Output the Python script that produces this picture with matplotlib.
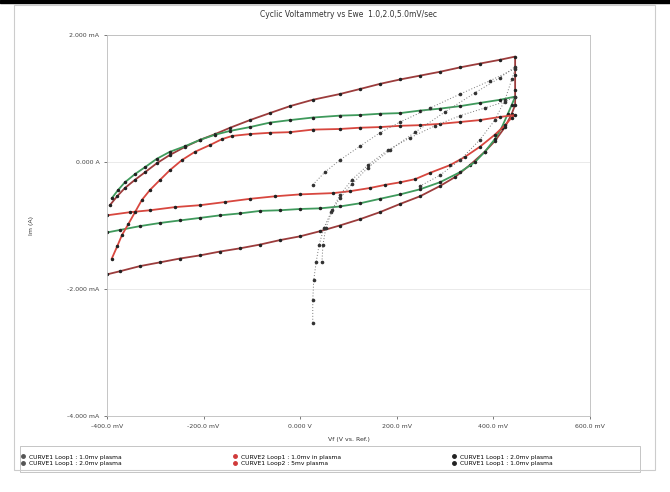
import matplotlib
matplotlib.use("Agg")
import matplotlib.pyplot as plt
from matplotlib.lines import Line2D
from matplotlib.patches import Rectangle

# potentials in mV, currents in mA
loop1_v = [-400, -373, -332, -290, -249, -207, -166, -125, -83, -42, 0, 41, 82, 124, 165, 207, 248,
           289, 320, 351, 382, 403, 424, 438, 445, 445, 445,
           445, 414, 372, 331, 289, 248, 207, 165, 124, 82, 26, -21, -63, -104, -145, -176,
           -207, -238, -270, -297, -321, -342, -363, -379, -394]
loop1_i = [-1.77, -1.72, -1.64, -1.58, -1.52, -1.47, -1.41, -1.36, -1.30, -1.23, -1.17, -1.09, -1.00,
           -0.90, -0.79, -0.66, -0.54, -0.38, -0.24, -0.05, 0.16, 0.33, 0.55, 0.76, 0.90, 1.14, 1.37,
           1.66, 1.61, 1.55, 1.49, 1.42, 1.36, 1.30, 1.23, 1.15, 1.07, 0.98, 0.88, 0.77, 0.66, 0.54, 0.44,
           0.35, 0.24, 0.11, -0.02, -0.16, -0.28, -0.41, -0.54, -0.68]

loop2_v = [-400, -373, -332, -290, -249, -207, -166, -125, -83, -42, 0, 41, 82, 124, 165, 207, 248,
           289, 331, 362, 382, 403, 417, 430, 438, 445,
           414, 372, 331, 289, 248, 207, 165, 124, 82, 26, -21, -63, -104, -145, -176,
           -207, -238, -270, -297, -321, -342, -363, -377, -390]
loop2_i = [-1.11, -1.07, -1.01, -0.96, -0.92, -0.88, -0.84, -0.81, -0.77, -0.76, -0.74, -0.73, -0.70,
           -0.65, -0.58, -0.51, -0.43, -0.32, -0.16, 0.00, 0.16, 0.36, 0.54, 0.76, 0.90, 1.03,
           0.98, 0.93, 0.88, 0.84, 0.81, 0.77, 0.76, 0.74, 0.73, 0.70, 0.66, 0.62, 0.55, 0.49, 0.43,
           0.35, 0.25, 0.16, 0.05, -0.08, -0.19, -0.32, -0.44, -0.57]

loop3_v = [-400, -352, -311, -259, -207, -155, -104, -52, 0, 68, 103, 144, 176, 207, 238, 269, 310,
           341, 372, 403, 424, 438, 445,
           414, 372, 331, 289, 248, 207, 165, 124, 82, 26, -21, -63, -104, -141, -162, -186,
           -218, -245, -270, -290, -311, -328, -342, -356, -369, -379, -390]
loop3_i = [-0.84, -0.79, -0.76, -0.71, -0.68, -0.63, -0.58, -0.54, -0.51, -0.49, -0.46, -0.41, -0.36,
           -0.32, -0.27, -0.17, -0.05, 0.08, 0.24, 0.43, 0.58, 0.70, 0.74,
           0.71, 0.66, 0.63, 0.60, 0.58, 0.57, 0.55, 0.54, 0.52, 0.51, 0.47, 0.46, 0.44, 0.41, 0.36, 0.27,
           0.16, 0.03, -0.13, -0.28, -0.44, -0.60, -0.79, -0.98, -1.15, -1.33, -1.52]

start1_v = [26, 26, 28, 33, 39, 49, 64, 82, 107, 140, 186, 238, 300, 362, 414, 445]
start1_i = [-2.53, -2.18, -1.86, -1.58, -1.31, -1.04, -0.79, -0.57, -0.35, -0.09, 0.19, 0.47, 0.79,
            1.09, 1.33, 1.50]

start2_v = [26, 51, 82, 124, 165, 207, 269, 331, 393, 445, 438, 424, 403, 372, 331, 289, 248]
start2_i = [-0.36, -0.16, 0.03, 0.25, 0.46, 0.63, 0.85, 1.07, 1.28, 1.47, 1.30, 0.98, 0.66, 0.35,
            0.03, -0.21, -0.38]

start3_v = [45, 47, 53, 66, 82, 107, 140, 182, 227, 279, 331, 382, 424, 445]
start3_i = [-1.58, -1.31, -1.04, -0.76, -0.52, -0.28, -0.05, 0.19, 0.38, 0.57, 0.73, 0.85, 0.95, 1.03]

labels = ["CURVE1 Loop1 : 1.0mv plasma", "CURVE1 Loop1 : 2.0mv plasma",
          "CURVE2 Loop1 : 1.0mv in plasma", "CURVE1 Loop2 : 5mv plasma",
          "CURVE1 Loop1 : 2.0mv plasma", "CURVE1 Loop1 : 1.0mv plasma"]
legend_colors = ["#555555", "#555555", "#d03a3a", "#d03a3a", "#222222", "#222222"]

xticks = [-400, -200, 0, 200, 400, 600]
xticklabels = ["-400.0 mV", "-200.0 mV", "0.000 V", "200.0 mV", "400.0 mV", "600.0 mV"]
yticks = [-4, -2, 0, 2]
yticklabels = ["-4.000 mA", "-2.000 mA", "0.000 A", "2.000 mA"]

fig = plt.figure(figsize=(6.7, 4.92), dpi=100)
ax = fig.add_axes([107 / 670, 1 - 416 / 492, (590 - 107) / 670, (416 - 35) / 492])

# loops: coloured line, black dots
dots = dict(marker="o", ms=1.5, mfc="#222222", mec="#222222")
ax.plot(loop1_v, loop1_i, color="#9c3c3c", lw=1.3, **dots)
ax.plot(loop2_v, loop2_i, color="#3f9a5c", lw=1.3, **dots)
ax.plot(loop3_v, loop3_i, color="#d8473f", lw=1.3, **dots)
# first sweeps from the rest potential: dotted look
for v, i in [(start1_v, start1_i), (start2_v, start2_i), (start3_v, start3_i)]:
    ax.plot(v, i, color="#777777", lw=0.7, ls=(0, (1, 2)), marker="o", ms=1.6,
            mfc="#333333", mec="#333333")

ax.set_xlim(-400, 600)
ax.set_ylim(-4, 2)
ax.set_xticks(xticks)
ax.set_xticklabels(xticklabels, fontsize=4.5)
ax.set_yticks(yticks)
ax.set_yticklabels(yticklabels, fontsize=4.5)
ax.tick_params(length=2, width=0.5, colors="#444444")
ax.grid(axis="y", color="#e6e6e6", lw=0.6)
for s in ax.spines.values():
    s.set_color("#bbbbbb")
    s.set_linewidth(0.6)

ax.set_title("Cyclic Voltammetry vs Ewe  1.0,2.0,5.0mV/sec", fontsize=5.5, pad=13, color="#333333")
ax.set_xlabel("Vf (V vs. Ref.)", fontsize=4.5, labelpad=6, color="#333333")
ax.set_ylabel("Im (A)", fontsize=4.5, labelpad=24, color="#333333")

handles = [Line2D([], [], ls="none", marker="o", ms=2.5, color=c) for c in legend_colors]
leg = fig.legend(handles, labels, loc="lower left", ncol=3,
                 bbox_to_anchor=(18 / 670, 1 - 468 / 492),
                 fontsize=4.3, frameon=False, handlelength=1.2, handletextpad=0.4,
                 columnspacing=18.3, borderpad=0.3, labelspacing=0.25, borderaxespad=0)

# legend box and outer chart frame
fig.patches.append(Rectangle((20 / 670, 1 - 472 / 492), 620 / 670, 26 / 492,
                             transform=fig.transFigure, fill=False, ec="#bbbbbb", lw=0.6))
fig.patches.append(Rectangle((14 / 670, 1 - 470 / 492), 641 / 670, 465 / 492,
                             transform=fig.transFigure, fill=False, ec="#cccccc", lw=0.8))
fig.patches.append(Rectangle((0, 1 - 3 / 492), 1, 3 / 492, transform=fig.transFigure,
                             color="black"))

fig.savefig("out.png", dpi=100)
